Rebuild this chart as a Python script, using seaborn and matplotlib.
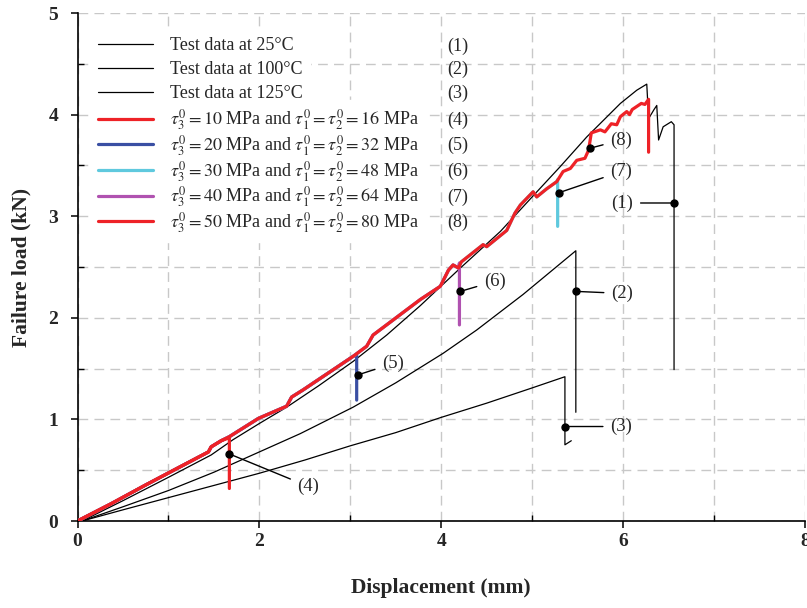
import matplotlib
matplotlib.use('Agg')
import matplotlib.pyplot as plt
from matplotlib.ticker import MultipleLocator
import seaborn as sns

# test curves (displacement mm, load kN)
test25_x = [0.05, 0.5, 1.0, 1.47, 1.71, 2.0, 2.3, 2.65, 3.03, 3.4, 3.77, 4.21, 4.65, 5.01, 5.3, 5.6,
            5.97, 6.15, 6.26, 6.28, 6.34, 6.37, 6.39, 6.44, 6.53, 6.56, 6.56]
test25_y = [0.0, 0.2, 0.43, 0.65, 0.80, 0.96, 1.12, 1.33, 1.57, 1.83, 2.12, 2.49, 2.85, 3.20, 3.48, 3.78,
            4.11, 4.24, 4.30, 3.96, 4.05, 4.09, 3.75, 3.88, 3.93, 3.90, 1.49]
test100_x = [0.05, 0.5, 1.0, 1.5, 2.2, 2.45, 3.03, 3.5, 4.02, 4.39, 4.9, 5.48, 5.48]
test100_y = [0.0, 0.14, 0.30, 0.48, 0.76, 0.86, 1.12, 1.36, 1.65, 1.88, 2.23, 2.66, 1.07]
test125_x = [0.05, 0.5, 1.0, 1.5, 2.0, 2.5, 3.0, 3.5, 4.0, 4.5, 5.0, 5.36, 5.36, 5.43]
test125_y = [0.0, 0.11, 0.23, 0.35, 0.47, 0.60, 0.74, 0.87, 1.02, 1.16, 1.31, 1.42, 0.75, 0.79]
test_temps = [25, 100, 125]

# shared model path, each model stops at its own failure point
model_x = [0.0, 0.37, 0.74, 1.10, 1.44, 1.47, 1.58, 1.67, 1.99, 2.30, 2.355, 2.48, 3.03, 3.18, 3.25,
           3.77, 3.99, 4.08, 4.13, 4.19, 4.22, 4.46, 4.50, 4.72, 4.81, 4.87, 5.01, 5.05, 5.16, 5.27,
           5.34, 5.42, 5.49, 5.58, 5.62, 5.65, 5.75, 5.80, 5.87, 5.93, 5.97, 6.04, 6.07, 6.10, 6.15,
           6.20, 6.24, 6.28]
model_y = [0.0, 0.17, 0.35, 0.52, 0.68, 0.73, 0.79, 0.83, 1.01, 1.13, 1.22, 1.29, 1.62, 1.72, 1.83,
           2.18, 2.31, 2.47, 2.52, 2.49, 2.55, 2.72, 2.70, 2.86, 3.03, 3.11, 3.24, 3.19, 3.27, 3.34,
           3.44, 3.47, 3.55, 3.57, 3.65, 3.82, 3.85, 3.83, 3.91, 3.90, 3.98, 4.03, 4.00, 4.05, 4.08,
           4.11, 4.10, 4.15]
tau3 = [10, 20, 30, 40, 50]
tau12 = [16, 32, 48, 64, 80]
end_x = [1.67, 3.07, 5.28, 4.20, 6.28]
end_top = [0.82, 1.63, 3.36, 2.54, 4.15]
end_bottom = [0.32, 1.19, 2.90, 1.93, 3.63]
model_colors = ['#ee2227', '#3a4fa3', '#5fc9de', '#b052b0', '#ee2227']
model_z = [6, 4, 4, 4, 6]

# callouts
ann_labels = ['(1)', '(2)', '(3)', '(4)', '(5)', '(6)', '(7)', '(8)']
marker_x = [6.56, 5.48, 5.36, 1.67, 3.09, 4.21, 5.29, 5.64]
marker_y = [3.13, 2.26, 0.93, 0.66, 1.44, 2.26, 3.23, 3.67]
text_x = [5.99, 5.99, 5.98, 2.54, 3.47, 4.59, 5.98, 5.98]
text_y = [3.13, 2.24, 0.93, 0.34, 1.55, 2.36, 3.44, 3.75]

sns.set_theme(style='ticks')
plt.rcParams['font.family'] = ['Liberation Serif', 'DejaVu Serif']
plt.rcParams['mathtext.fontset'] = 'stix'

fig = plt.figure(figsize=(8.07, 6.08), dpi=100)
ax = fig.add_axes([77.5 / 807, 87 / 608, 727.5 / 807, 508 / 608])

test_handles, test_labels = [], []
for tx, ty, temp in zip([test25_x, test100_x, test125_x], [test25_y, test100_y, test125_y], test_temps):
    sns.lineplot(x=tx, y=ty, sort=False, estimator=None, color='black', linewidth=0.9, ax=ax, zorder=3)
    test_handles.append(ax.lines[-1])
    test_labels.append('Test data at %d°C' % temp)

model_handles, model_labels = [], []
for i in range(len(tau3)):
    xs = [x for x in model_x if x < end_x[i]] + [end_x[i], end_x[i]]
    ys = [y for x, y in zip(model_x, model_y) if x < end_x[i]] + [end_top[i], end_bottom[i]]
    sns.lineplot(x=xs, y=ys, sort=False, estimator=None, color=model_colors[i], linewidth=2.3,
                 ax=ax, zorder=model_z[i])
    model_handles.append(ax.lines[-1])
    model_labels.append(r'$\tau_3^0 = %d$ MPa and $\tau_1^0 = \tau_2^0 = %d$ MPa' % (tau3[i], tau12[i]))

for lab, mx, my, tx, ty in zip(ann_labels, marker_x, marker_y, text_x, text_y):
    ax.plot(mx, my, 'o', color='black', markersize=5, zorder=8)
    ax.annotate(lab, xy=(mx, my), xytext=(tx, ty), ha='center', va='center', fontsize=13.5,
                arrowprops=dict(arrowstyle='-', color='black', lw=1.0, shrinkA=3, shrinkB=0), zorder=8)

ax.set_xlim(0, 8)
ax.set_ylim(0, 5)
ax.xaxis.set_major_locator(MultipleLocator(2))
ax.xaxis.set_minor_locator(MultipleLocator(1))
ax.yaxis.set_major_locator(MultipleLocator(1))
ax.yaxis.set_minor_locator(MultipleLocator(0.5))
ax.grid(which='both', color='#c8c8c8', linestyle=(0, (7, 4.5)), linewidth=1.0, zorder=0)
ax.set_axisbelow(True)
ax.tick_params(which='major', direction='out', length=5, width=1.1, color='black', labelsize=14, pad=4)
ax.tick_params(axis='y', which='major', pad=9)
ax.tick_params(which='minor', direction='in', length=4, width=1.0, color='black')
for t in ax.get_xticklabels() + ax.get_yticklabels():
    t.set_fontweight('bold')
sns.despine(ax=ax)
for s in ['left', 'bottom']:
    ax.spines[s].set_color('black')
    ax.spines[s].set_linewidth(1.2)

ax.set_xlabel('Displacement (mm)', fontsize=15.5, fontweight='bold', labelpad=20)
ax.set_ylabel('Failure load (kN)', fontsize=15.5, fontweight='bold', labelpad=12)

leg_style = dict(loc='upper left', fontsize=13, handlelength=3.05, handletextpad=0.95, borderpad=0.4,
                 frameon=True, facecolor='white', edgecolor='white', framealpha=1, fancybox=False)
leg1 = ax.legend(test_handles, test_labels, bbox_to_anchor=(0.006, 0.984), labelspacing=0.375, **leg_style)
leg1.set_zorder(7)
ax.add_artist(leg1)
leg2 = ax.legend(model_handles, model_labels, bbox_to_anchor=(0.006, 0.846), labelspacing=0.05, **leg_style)
leg2.set_zorder(7)

# row numbers on the right of the legend
fig.canvas.draw()
texts = leg1.get_texts() + leg2.get_texts()
for k, t in enumerate(texts):
    bb = t.get_window_extent()
    yc = (bb.y0 + bb.y1) / 2
    xf, yf = fig.transFigure.inverted().transform((447, yc))
    fig.text(xf, yf, '(%d)' % (k + 1), ha='left', va='center', fontsize=13, zorder=9)

fig.savefig('out.png', dpi=100)
